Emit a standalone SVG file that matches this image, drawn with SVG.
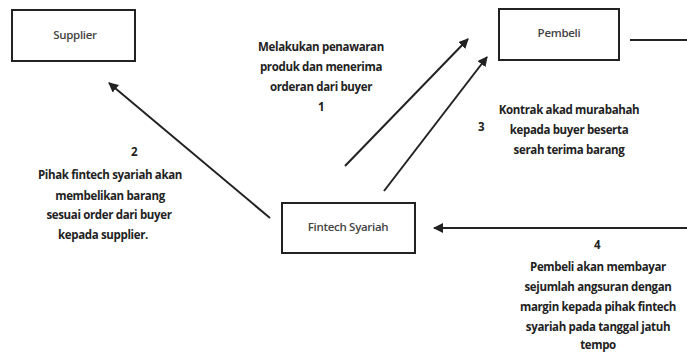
<svg xmlns="http://www.w3.org/2000/svg" width="687" height="354" viewBox="0 0 687 354">
<defs>
<style>
.box{fill:#fff;stroke:#222;stroke-width:2}
.lbl{font-family:"Open Sans","Liberation Sans",sans-serif;font-size:11.5px;font-weight:700;fill:#222;text-anchor:middle;letter-spacing:-0.35px}
.node{font-family:"Open Sans","Liberation Sans",sans-serif;font-size:11.5px;font-weight:600;fill:#444;text-anchor:middle;letter-spacing:-0.3px}
.edge{stroke:#222;stroke-width:2;fill:none}
</style>
<marker id="ah" viewBox="0 0 10 10" refX="9" refY="5" markerWidth="5" markerHeight="5" orient="auto" markerUnits="strokeWidth">
<path d="M0,0 L10,5 L0,10 z" fill="#222"/>
</marker>
</defs>
<rect width="687" height="354" fill="#fff"/>
<g id="supplier">
<rect class="box" x="12" y="10" width="123" height="51"/>
<text class="node" x="75" y="39">Supplier</text>
</g>
<g id="pembeli">
<rect class="box" x="499" y="9" width="120" height="51"/>
<text class="node" x="559" y="37">Pembeli</text>
</g>
<g id="fintech">
<rect class="box" x="282" y="203" width="133" height="50"/>
<text class="node" x="348" y="231">Fintech Syariah</text>
</g>
<g id="connectors">
<line class="edge" x1="345" y1="166" x2="468" y2="39" marker-end="url(#ah)"/>
<line class="edge" x1="384" y1="191" x2="487" y2="57" marker-end="url(#ah)"/>
<line class="edge" x1="270" y1="218" x2="109" y2="83" marker-end="url(#ah)"/>
<line class="edge" x1="687" y1="228" x2="434" y2="228" marker-end="url(#ah)"/>
<line class="edge" x1="630" y1="40" x2="687" y2="40"/>
</g>
<g id="labels">
<text class="lbl" x="321" y="51">Melakukan penawaran</text>
<text class="lbl" x="321" y="71">produk dan menerima</text>
<text class="lbl" x="321" y="91">orderan dari buyer</text>
<text class="lbl" x="321" y="111">1</text>
<text class="lbl" x="134" y="156">2</text>
<text class="lbl" x="110" y="179">Pihak fintech syariah akan</text>
<text class="lbl" x="110" y="200">membelikan barang</text>
<text class="lbl" x="109" y="219">sesuai order dari buyer</text>
<text class="lbl" x="103" y="239">kepada supplier.</text>
<text class="lbl" x="481" y="131">3</text>
<text class="lbl" x="569" y="114">Kontrak akad murabahah</text>
<text class="lbl" x="569" y="134">kepada buyer beserta</text>
<text class="lbl" x="569" y="154">serah terima barang</text>
<text class="lbl" x="597" y="249">4</text>
<text class="lbl" x="598" y="271">Pembeli akan membayar</text>
<text class="lbl" x="598" y="291">sejumlah angsuran dengan</text>
<text class="lbl" x="598" y="311">margin kepada pihak fintech</text>
<text class="lbl" x="598" y="331">syariah pada tanggal jatuh</text>
<text class="lbl" x="598" y="349">tempo</text>
</g>
</svg>
